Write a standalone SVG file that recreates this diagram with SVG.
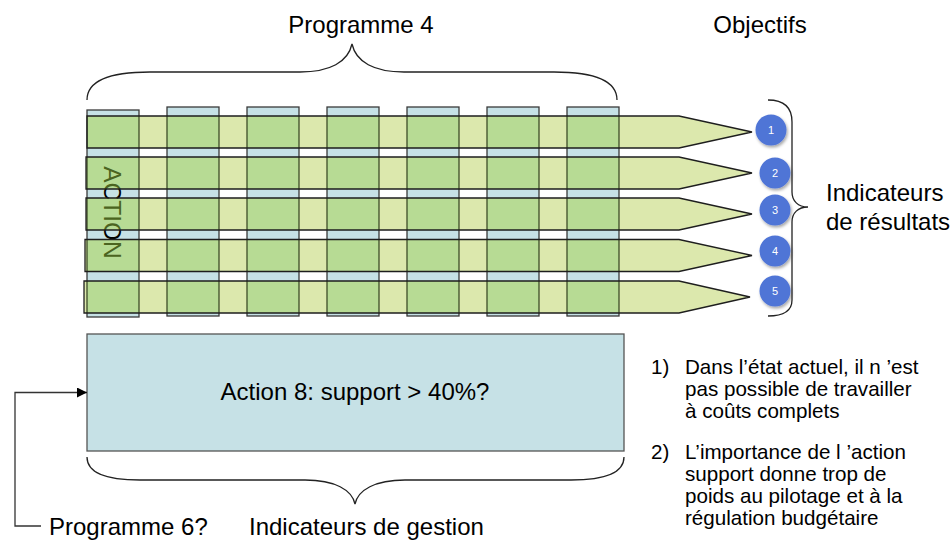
<svg xmlns="http://www.w3.org/2000/svg" width="950" height="541" viewBox="0 0 950 541">
<defs>
<style>
text{font-family:"Liberation Sans",Arial,sans-serif;fill:#000}
.big{font-size:24px}
.list{font-size:20.6px}
.col{fill:#C6E1E6;stroke:#3A3A3A;stroke-width:1.3}
.colov{fill:#B7DB94;stroke:none}
.colline{fill:none;stroke:#33401F;stroke-width:1.2}
.arr{fill:#DCE8AD;stroke:none}
.arrline{fill:none;stroke:#1E1E1E;stroke-width:1.3}
.brace{fill:none;stroke:#222;stroke-width:1.3}
.dot{fill:#5075D6}
.num{font-size:11px;fill:#fff;text-anchor:middle}
.conn{fill:none;stroke:#333;stroke-width:1.3}
</style>
<marker id="ah" viewBox="0 0 10 10" refX="10" refY="5" markerWidth="10" markerHeight="10" markerUnits="userSpaceOnUse" orient="auto">
<path d="M0,0 L10,5 L0,10 z" fill="#000"/>
</marker>
<filter id="sh" x="-30%" y="-30%" width="160%" height="160%">
<feDropShadow dx="1.2" dy="2" stdDeviation="1.4" flood-color="#000" flood-opacity="0.35"/>
</filter>
<polygon id="a1" points="87,116 679,116 752,132 679,148 87,148"/>
<polygon id="a2" points="86,157 679,157 752,173 679,189 86,189"/>
<polygon id="a3" points="86,198 679,198 752,214 679,230 86,230"/>
<polygon id="a4" points="85,239.5 679,239.5 752,255.5 679,271.5 85,271.5"/>
<polygon id="a5" points="84,281 679,281 750,297 679,313 84,313"/>
<clipPath id="arrowClip">
<use href="#a1"/><use href="#a2"/><use href="#a3"/><use href="#a4"/><use href="#a5"/>
</clipPath>
<g id="colshapes">
<rect x="87" y="110" width="52" height="207"/>
<rect x="167" y="107" width="52" height="209"/>
<rect x="247" y="107" width="52" height="209"/>
<rect x="327" y="107" width="52" height="209"/>
<rect x="407" y="107" width="52" height="209"/>
<rect x="487" y="107" width="52" height="209"/>
<rect x="567" y="107" width="52" height="209"/>
</g>
</defs>

<g id="programme4-columns">
<use href="#colshapes" class="col"/>
</g>

<g id="action-label">
<text class="big" transform="translate(103.5,212.5) rotate(90)" text-anchor="middle" font-size="24.5">ACTION</text>
</g>

<g id="objective-arrows">
<use href="#a1" class="arr"/><use href="#a2" class="arr"/><use href="#a3" class="arr"/><use href="#a4" class="arr"/><use href="#a5" class="arr"/>
<g clip-path="url(#arrowClip)">
<use href="#colshapes" class="colov"/>
<text transform="translate(103.5,212.5) rotate(90)" text-anchor="middle" font-size="24.5" style="fill:#4B6420">ACTION</text>
<use href="#colshapes" class="colline"/>
</g>
<use href="#a1" class="arrline"/><use href="#a2" class="arrline"/><use href="#a3" class="arrline"/><use href="#a4" class="arrline"/><use href="#a5" class="arrline"/>
</g>

<g id="indicators">
<g id="ind1"><circle class="dot" cx="771" cy="130" r="15.5" filter="url(#sh)"/><text class="num" x="771" y="134">1</text></g>
<g id="ind2"><circle class="dot" cx="775" cy="173" r="15.5" filter="url(#sh)"/><text class="num" x="775" y="177">2</text></g>
<g id="ind3"><circle class="dot" cx="775" cy="210" r="15.5" filter="url(#sh)"/><text class="num" x="775" y="214">3</text></g>
<g id="ind4"><circle class="dot" cx="775" cy="251" r="15.5" filter="url(#sh)"/><text class="num" x="775" y="255">4</text></g>
<g id="ind5"><circle class="dot" cx="775" cy="291" r="15.5" filter="url(#sh)"/><text class="num" x="775" y="295">5</text></g>
</g>

<g id="braces">
<path class="brace" d="M87,100 C87,80 110,72 150,72 L300,72 C330,72 348,62 352,44 C356,62 374,72 404,72 L554,72 C594,72 617,80 617,100"/>
<path class="brace" d="M87,457 C87,472 105,480 140,480 L305,480 C335,480 352,490 355,504 C358,490 375,480 405,480 L571,480 C606,480 624,472 624,457"/>
<path class="brace" d="M768,100 C784,100 792,107 792,122 L792,192 C792,201 798,207 808,207 C798,207 792,213 792,222 L792,300 C792,311 784,316 768,316"/>
</g>

<g id="action8">
<rect x="87" y="334" width="537" height="117" fill="#C6E1E6" stroke="#555" stroke-width="1.3"/>
<text class="big" x="355" y="400" text-anchor="middle">Action 8: support &gt; 40%?</text>
</g>

<g id="connectors">
<path class="conn" d="M41,526 L15,526 L15,392.5 L87,392.5" marker-end="url(#ah)"/>
</g>

<g id="labels">
<text class="big" x="361" y="33" text-anchor="middle">Programme 4</text>
<text class="big" x="760" y="33" text-anchor="middle">Objectifs</text>
<text class="big" x="826" y="201">Indicateurs</text>
<text class="big" x="826" y="230">de résultats</text>
<text class="big" x="49" y="535">Programme 6?</text>
<text class="big" x="249" y="535">Indicateurs de gestion</text>
</g>

<g id="notes">
<text class="list" x="651" y="374">1)</text>
<text class="list" x="685" y="374">Dans l’état actuel, il n ’est</text>
<text class="list" x="685" y="396">pas possible de travailler</text>
<text class="list" x="685" y="418">à coûts complets</text>
<text class="list" x="651" y="459">2)</text>
<text class="list" x="685" y="459">L’importance de l ’action</text>
<text class="list" x="685" y="481">support donne trop de</text>
<text class="list" x="685" y="503">poids au pilotage et à la</text>
<text class="list" x="685" y="525">régulation budgétaire</text>
</g>
</svg>
